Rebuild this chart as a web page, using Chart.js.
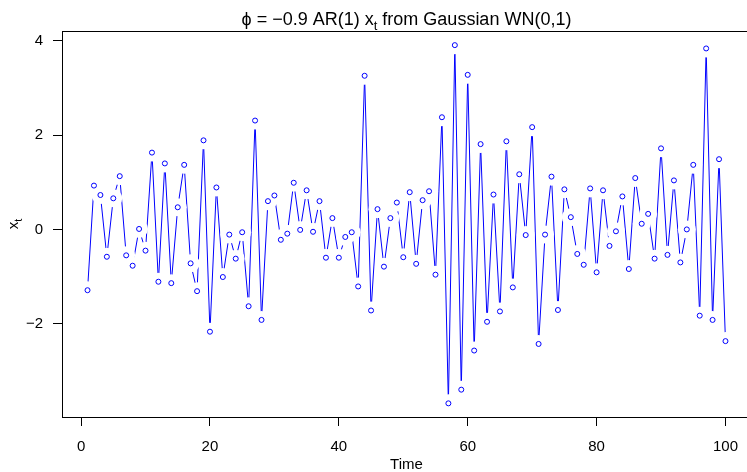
<!DOCTYPE html>
<html>
<head>
<meta charset="utf-8">
<script src="https://cdn.jsdelivr.net/npm/chart.js@4/dist/chart.umd.min.js"></script>
<style>
html, body { margin: 0; padding: 0; background: #fff; overflow: hidden; }
#wrap { position: relative; width: 760px; height: 472px; }
</style>
</head>
<body>
<div id="wrap"><canvas id="myChart"></canvas></div>
<script>
// time index and simulated AR(1) values
var time = [
	1, 2, 3, 4, 5, 6, 7, 8, 9, 10, 11, 12, 13, 14, 15, 16, 17, 18, 19, 20,
	21, 22, 23, 24, 25, 26, 27, 28, 29, 30, 31, 32, 33, 34, 35, 36, 37, 38, 39, 40,
	41, 42, 43, 44, 45, 46, 47, 48, 49, 50, 51, 52, 53, 54, 55, 56, 57, 58, 59, 60,
	61, 62, 63, 64, 65, 66, 67, 68, 69, 70, 71, 72, 73, 74, 75, 76, 77, 78, 79, 80,
	81, 82, 83, 84, 85, 86, 87, 88, 89, 90, 91, 92, 93, 94, 95, 96, 97, 98, 99, 100
];
var xt = [
	-1.29, 0.93, 0.73, -0.58, 0.66, 1.13, -0.55, -0.77, 0.01, -0.45,
	1.63, -1.11, 1.40, -1.14, 0.47, 1.37, -0.72, -1.31, 1.89, -2.17,
	0.89, -1.01, -0.11, -0.62, -0.06, -1.63, 2.31, -1.92, 0.60, 0.72,
	-0.22, -0.09, 0.99, -0.01, 0.83, -0.05, 0.60, -0.60, 0.24, -0.60,
	-0.16, -0.06, -1.21, 3.26, -1.72, 0.43, -0.79, 0.24, 0.57, -0.59,
	0.79, -0.73, 0.62, 0.81, -0.96, 2.38, -3.69, 3.91, -3.40, 3.28,
	-2.57, 1.81, -1.96, 0.74, -1.74, 1.87, -1.23, 1.17, -0.12, 2.17,
	-2.43, -0.11, 1.12, -1.71, 0.85, 0.26, -0.52, -0.75, 0.87, -0.91,
	0.83, -0.35, -0.04, 0.70, -0.84, 1.09, 0.12, 0.33, -0.62, 1.72,
	-0.54, 1.04, -0.70, 0.00, 1.37, -1.83, 3.84, -1.92, 1.49, -2.37
];
var xTicks = [0, 20, 40, 60, 80, 100];
var yTicks = [-2, 0, 2, 4];

var FONT = '"Liberation Sans", Arial, Helvetica, "DejaVu Sans", sans-serif';
Chart.defaults.font.family = FONT;
Chart.defaults.font.size = 15;
Chart.defaults.color = "#000";

var points = time.map(function (t, i) {
	return { x: t, y: xt[i] };
});

function minusFmt(v) {
	return v < 0 ? "\u2212" + Math.abs(v) : "" + v;
}

// draws "before x_t after" with a lowered subscript, centered on cx
function subText(ctx, before, sub, after, cx, y, size) {
	var big = size + "px " + FONT;
	var small = Math.round(size * 0.7) + "px " + FONT;
	ctx.font = big;
	var w1 = ctx.measureText(before).width;
	var w3 = ctx.measureText(after).width;
	ctx.font = small;
	var w2 = ctx.measureText(sub).width;
	var x = cx - (w1 + w2 + w3) / 2;
	ctx.textAlign = "left";
	ctx.textBaseline = "alphabetic";
	ctx.font = big;
	ctx.fillText(before, x, y);
	ctx.font = small;
	ctx.fillText(sub, x + w1, y + size * 0.25);
	ctx.font = big;
	ctx.fillText(after, x + w1 + w2, y);
}

const rStyle = {
	id: "rStyle",
	afterDraw: function (chart) {
		var ctx = chart.ctx;
		var a = chart.chartArea;
		ctx.save();
		// box
		ctx.strokeStyle = "#000";
		ctx.lineWidth = 1;
		var l = Math.round(a.left) + 0.5, t = Math.round(a.top) + 0.5;
		var r = Math.round(a.right) + 0.5, b = Math.round(a.bottom) + 0.5;
		ctx.strokeRect(l, t, r - l, b - t);
		ctx.fillStyle = "#000";
		var cx = (a.left + a.right) / 2;
		subText(ctx, "\u03D5 = \u22120.9 AR(1) x", "t", " from Gaussian WN(0,1)", cx, 25, 18);
		ctx.font = "15px " + FONT;
		ctx.textAlign = "center";
		ctx.textBaseline = "alphabetic";
		ctx.fillText("Time", cx, 469);
		ctx.translate(18, (a.top + a.bottom) / 2);
		ctx.rotate(-Math.PI / 2);
		subText(ctx, "x", "t", "", 0, 0, 15);
		ctx.restore();
	},
};

const config = {
	type: "line",
	data: {
		datasets: [
			{
				// the line, with white discs that open the gaps round each point
				data: points,
				borderColor: "#0000ff",
				borderWidth: 1,
				tension: 0,
				pointRadius: 9,
				pointBorderWidth: 0,
				pointBackgroundColor: "#fff",
				pointBorderColor: "#fff",
				order: 2,
			},
			{
				data: points,
				showLine: false,
				pointRadius: 2.5,
				pointBorderWidth: 1,
				pointBorderColor: "#0000ff",
				pointBackgroundColor: "rgba(0,0,0,0)",
				order: 1,
			},
		],
	},
	options: {
		responsive: true,
		maintainAspectRatio: false,
		animation: false,
		events: [],
		layout: { padding: { top: 31, right: 8.4, bottom: 0, left: 0 } },
		plugins: {
			legend: { display: false },
			tooltip: { enabled: false },
			title: { display: false },
		},
		scales: {
			x: {
				type: "linear",
				min: -2.96,
				max: 103.96,
				afterFit: function (s) { s.height = 55; },
				afterBuildTicks: function (s) {
					s.ticks = xTicks.map(function (v) { return { value: v }; });
				},
				ticks: { padding: 12, maxRotation: 0, autoSkip: false },
				grid: { drawOnChartArea: false, drawTicks: true, tickLength: 9, color: "#000", tickColor: "#000" },
				border: { display: false },
			},
			y: {
				min: -3.98,
				max: 4.21,
				afterFit: function (s) { s.width = 62; },
				afterBuildTicks: function (s) {
					s.ticks = yTicks.map(function (v) { return { value: v }; });
				},
				ticks: { padding: 10, callback: minusFmt, autoSkip: false },
				grid: { drawOnChartArea: false, drawTicks: true, tickLength: 9, color: "#000", tickColor: "#000" },
				border: { display: false },
			},
		},
	},
	plugins: [rStyle],
};

const myChart = new Chart(document.getElementById("myChart"), config);
</script>
</body>
</html>
